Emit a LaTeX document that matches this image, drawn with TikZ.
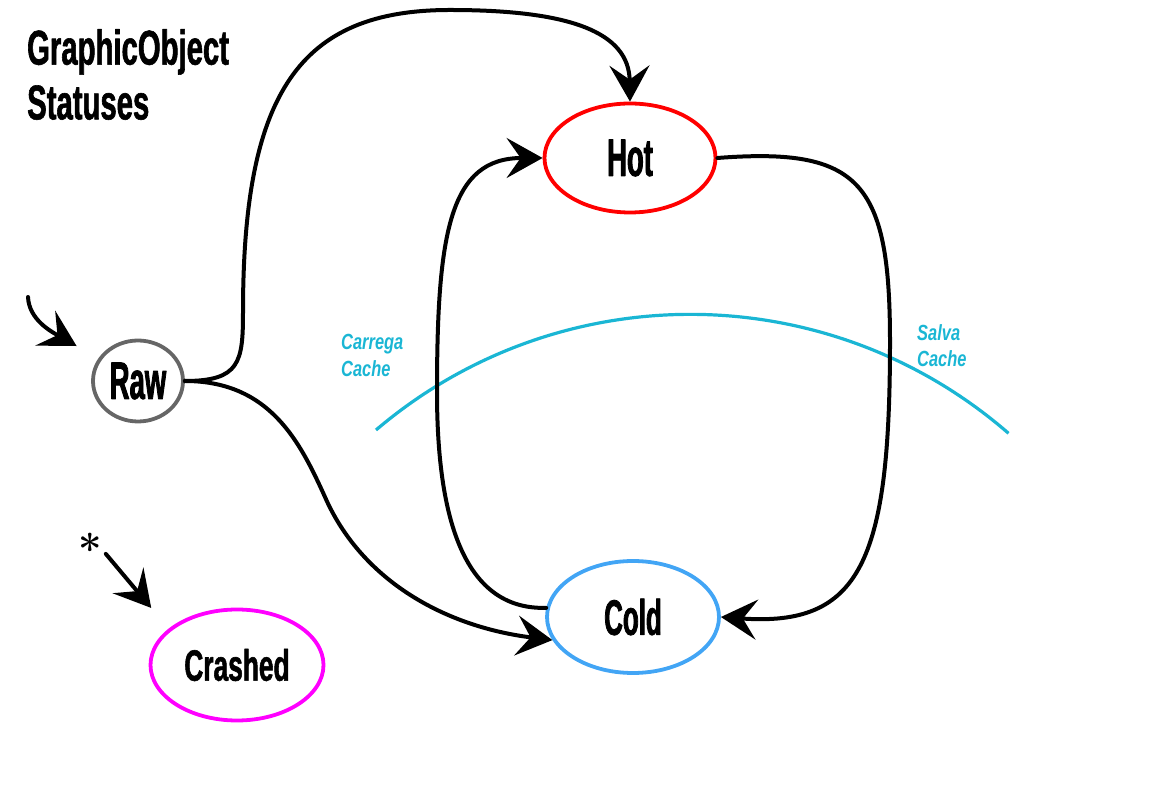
\documentclass[tikz,border=0pt]{standalone}
\usepackage{fontspec}
\newfontfamily\statefont{Liberation Sans}[FakeStretch=0.52,FakeBold=1.5]
\newfontfamily\titlefont{Liberation Sans}[FakeStretch=0.6,FakeBold=1.2]
\newfontfamily\notefont{Liberation Sans}[FakeStretch=0.75]
\usetikzlibrary{arrows.meta}
\usetikzlibrary{shapes.geometric}
\definecolor{rawgray}{HTML}{666666}
\definecolor{hotred}{HTML}{FF0000}
\definecolor{coldblue}{HTML}{42A5F5}
\definecolor{crashmagenta}{HTML}{FF00FF}
\definecolor{cachecyan}{HTML}{1AB6D4}

\begin{document}
\begin{tikzpicture}[>={Stealth[length=36bp,width=40bp,inset=14bp]},line join=bevel,
  state/.style={ellipse,draw,line width=3.8bp,inner sep=0pt},
  edge/.style={black,line width=4bp,line cap=round},
  note/.style={anchor=north west,align=left,inner sep=0pt,text=cachecyan,font=\notefont\bfseries\itshape\fontsize{22}{27}\selectfont}]
%%
\useasboundingbox (0bp,0bp) rectangle (1176bp,792bp);
\node (node_title) at (27bp,763bp) [anchor=north west,align=left,inner sep=0pt,font=\titlefont\bfseries\fontsize{49}{55}\selectfont] {GraphicObject\\Statuses};
  \node (node_raw) at (138bp,411bp) [state,draw=rawgray,minimum width=90bp,minimum height=81bp,font=\statefont\bfseries\fontsize{53}{60}\selectfont] {Raw};
  \node (node_hot) at (630bp,634bp) [state,draw=hotred,minimum width=171bp,minimum height=109bp,font=\statefont\bfseries\fontsize{53}{60}\selectfont] {Hot};
  \node (node_cold) at (633bp,175bp) [state,draw=coldblue,minimum width=172bp,minimum height=112bp,font=\statefont\bfseries\fontsize{50}{60}\selectfont] {Cold};
  \node (node_crashed) at (237bp,127bp) [state,draw=crashmagenta,minimum width=173bp,minimum height=111bp,font=\titlefont\bfseries\fontsize{44}{50}\selectfont] {Crashed};
  \node (node_star) at (90bp,227bp) [anchor=base,inner sep=0pt,font=\bfseries\fontsize{42}{42}\selectfont] {*};
  \node (node_carrega) at (341bp,458bp) [note] {Carrega\\Cache};
  \node (node_salva) at (917bp,468bp) [note] {Salva\\Cache};
  \coordinate (node_entry) at (28bp,495bp);
  \draw [cachecyan,line width=3.2bp] (376bp,362bp) arc (130.4:49:485bp);
  \draw [edge,->] (node_raw.east) ..controls (240bp,411bp) and (243bp,430bp) .. (243bp,480bp) ..controls (243bp,700bp) and (300bp,782bp) .. (450bp,782bp) ..controls (570bp,782bp) and (629bp,760bp) .. (node_hot.north);
  \draw [edge,->] (node_raw.east) ..controls (270bp,411bp) and (300bp,350bp) .. (325bp,295bp) ..controls (360bp,215bp) and (440bp,166bp) .. (node_cold.196);
  \draw [edge,->] (node_cold.174) ..controls (470bp,182bp) and (437bp,260bp) .. (437bp,400bp) ..controls (437bp,560bp) and (450bp,634bp) .. (node_hot.west);
  \draw [edge,->] (node_hot.east) ..controls (860bp,645bp) and (890bp,610bp) .. (890bp,450bp) ..controls (890bp,230bp) and (860bp,165bp) .. (node_cold.east);
  \draw [edge,->,shorten >=25bp] (node_entry) ..controls (29bp,472bp) and (52bp,460bp) .. (node_raw);
  \draw [edge,->,shorten <=6bp,shorten >=27bp] (node_star.east) -- (node_crashed.152);
%
\end{tikzpicture}
\end{document}
